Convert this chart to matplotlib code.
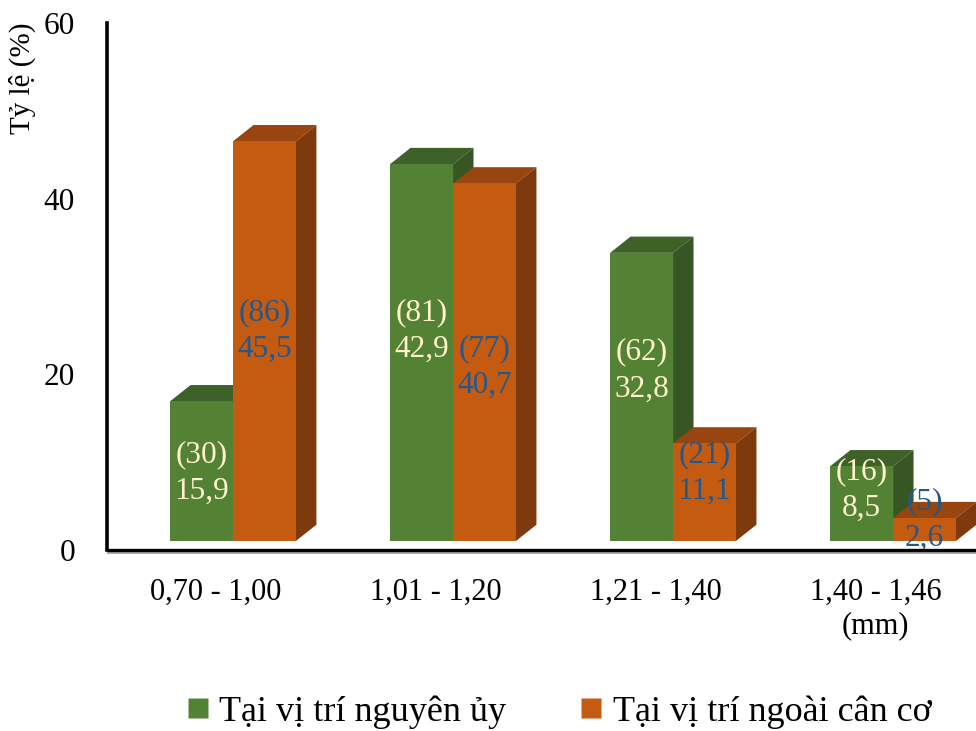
import matplotlib
matplotlib.use("Agg")
import matplotlib.pyplot as plt
from matplotlib.patches import Polygon
from matplotlib.lines import Line2D

# ---- data ----
categories = ["0,70 - 1,00", "1,01 - 1,20", "1,21 - 1,40", "1,40 - 1,46\n(mm)"]
series_names = ["Tại vị trí nguyên ủy", "Tại vị trí ngoài cân cơ"]
origin_pct = [15.9, 42.9, 32.8, 8.5]
origin_n = [30, 81, 62, 16]
fascia_pct = [45.5, 40.7, 11.1, 2.6]
fascia_n = [86, 77, 21, 5]
y_ticks = [0, 20, 40, 60]

plt.rcParams["font.family"] = ["Liberation Serif", "DejaVu Serif"]

# face colours: front, top, side
green = ("#548235", "#3e6128", "#375623")
orange = ("#c55a11", "#98450f", "#7e3a0c")
label_colors = ("#fff2cc", "#24578a")

fig = plt.figure(figsize=(9.76, 7.31), dpi=100)
ax = fig.add_axes([0.1096, 0.2476, 0.8904, 0.721])
ax.set_xlim(-0.573, 3.377)
ax.set_ylim(0, 60)

bar_w = 0.286          # width of a bar face (category units)
depth_x = 0.093        # 3-D depth, horizontal
depth_y = 1.85         # 3-D depth, vertical
floor = 1.03           # height of the front edge of the floor

# vertical centre of each value label above the floor
label_mid = [[7.7, 23.9, 19.4, 5.8], [23.9, 19.8, 7.7, 2.4]]


def draw_bar(x0, value, colors, z):
    x1 = x0 + bar_w
    b = floor
    t = floor + value
    front, top, side = colors
    ax.add_patch(Polygon([(x0, t), (x0 + depth_x, t + depth_y),
                          (x1 + depth_x, t + depth_y), (x1, t)],
                         closed=True, facecolor=top, edgecolor="none", zorder=z))
    ax.add_patch(Polygon([(x1, b), (x1, t), (x1 + depth_x, t + depth_y),
                          (x1 + depth_x, b + depth_y)],
                         closed=True, facecolor=side, edgecolor="none", zorder=z))
    ax.add_patch(Polygon([(x0, b), (x0, t), (x1, t), (x1, b)],
                         closed=True, facecolor=front, edgecolor="none", zorder=z + 0.1))


z = 2
for i in range(len(categories)):
    for s, (vals, counts, cols) in enumerate(((origin_pct, origin_n, green),
                                              (fascia_pct, fascia_n, orange))):
        x0 = i - bar_w + s * bar_w
        draw_bar(x0, vals[i], cols, z)
        z += 1
        ax.text(x0 + bar_w / 2, floor + label_mid[s][i],
                f"({counts[i]})\n{vals[i]:.1f}".replace(".", ","),
                ha="center", va="center", fontsize=22.5, linespacing=1.36,
                color=label_colors[s], zorder=50)

# axes styling
for side in ("top", "right"):
    ax.spines[side].set_visible(False)
ax.spines["left"].set_linewidth(2.6)
ax.spines["left"].set_color("black")
ax.spines["bottom"].set_visible(False)
ax.plot([-0.573, 3.377], [0, 0], color="black", lw=2.4, zorder=60, clip_on=False,
        solid_capstyle="butt")
ax.plot([-0.573, 3.377], [-0.3, -0.3], color="#9a9a9a", lw=1.2, zorder=59,
        clip_on=False, solid_capstyle="butt")

ax.set_yticks(y_ticks)
ax.set_yticklabels([str(v) for v in y_ticks], fontsize=22.5)
ax.tick_params(axis="y", length=0, pad=23)
ax.set_xticks([i - 0.08 for i in range(len(categories))])
ax.set_xticklabels(categories, fontsize=22, linespacing=1.2, va="top")
ax.tick_params(axis="x", length=0, pad=20)

fig.text(0.023, 0.893, "Tỷ lệ (%)", rotation=90, ha="center", va="center",
         fontsize=21)

handles = [Line2D([], [], linestyle="none", marker="s", markersize=14,
                  markerfacecolor=c[0], markeredgecolor="none")
           for c in (green, orange)]
fig.legend(handles, series_names, loc="center", bbox_to_anchor=(0.572, 0.026),
           ncol=2, frameon=False, fontsize=26, handlelength=0.7,
           handletextpad=0.25, columnspacing=2.0)

fig.savefig("out.png", dpi=100)
